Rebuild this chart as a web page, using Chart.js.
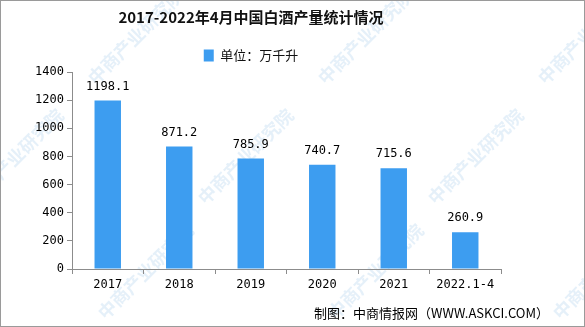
<!DOCTYPE html>
<html>
<head>
<meta charset="utf-8">
<script src="https://cdn.jsdelivr.net/npm/chart.js@4/dist/chart.umd.min.js"></script>
<style>
  html, body { margin: 0; padding: 0; background: #fff; }
  #wrap { position: relative; width: 585px; height: 327px; box-sizing: border-box; border: 1px solid #9a9a9a; }
  canvas { display: block; }
</style>
</head>
<body>
<div id="wrap"><canvas id="chart" width="583" height="325"></canvas></div>
<script>
const years = ['2017', '2018', '2019', '2020', '2021', '2022.1-4'];
const output = [1198.1, 871.2, 785.9, 740.7, 715.6, 260.9];
const yTicks = [0, 200, 400, 600, 800, 1000, 1200, 1400];

const BAR_BLUE = '#3d9df0';
const AXIS_GRAY = '#8c8c8c';

// faint diagonal watermark text behind the chart
const watermark = {
  id: 'watermark',
  beforeDraw(chart) {
    const ctx = chart.ctx;
    ctx.save();
    ctx.font = 'bold 18px "Noto Sans CJK SC"';
    ctx.fillStyle = 'rgba(170, 205, 235, 0.3)';
    const spots = [[90, 80], [320, 80], [540, 80], [-30, 200], [200, 200], [430, 200], [100, 315], [330, 315], [555, 315]];
    spots.forEach(([x, y]) => {
      ctx.save();
      ctx.translate(x, y);
      ctx.rotate(-Math.PI / 4);
      ctx.fillText('中商产业研究院', 0, 0);
      ctx.restore();
    });
    ctx.restore();
  }
};

// value labels on top of each bar, plus the source note
const barLabels = {
  id: 'barLabels',
  afterDatasetsDraw(chart) {
    const ctx = chart.ctx;
    ctx.save();
    ctx.font = '12px "DejaVu Sans Mono"';
    ctx.fillStyle = '#000';
    ctx.textAlign = 'center';
    ctx.textBaseline = 'bottom';
    chart.getDatasetMeta(0).data.forEach((bar, i) => {
      ctx.fillText(output[i].toFixed(1), bar.x, bar.y - 8);
    });
    ctx.font = '13px "Noto Sans CJK SC"';
    ctx.textAlign = 'right';
    ctx.textBaseline = 'middle';
    ctx.fillText('制图：中商情报网（WWW.ASKCI.COM）', 548, 312);
    ctx.restore();
  }
};

new Chart(document.getElementById('chart'), {
  type: 'bar',
  data: {
    labels: years,
    datasets: [{
      label: '单位：万千升',
      data: output,
      backgroundColor: BAR_BLUE,
      categoryPercentage: 1,
      barPercentage: 0.37
    }]
  },
  options: {
    responsive: false,
    animation: false,
    layout: { padding: { left: 0, right: 83, top: 4, bottom: 0 } },
    plugins: {
      title: {
        display: true,
        text: '2017-2022年4月中国白酒产量统计情况',
        color: '#111',
        font: { family: '"Noto Sans CJK SC"', size: 15, weight: 'bold' },
        padding: { top: 3, bottom: 10 }
      },
      legend: {
        display: true,
        labels: {
          boxWidth: 10,
          boxHeight: 12,
          color: '#111',
          font: { family: '"Noto Sans CJK SC"', size: 13 },
          padding: 13
        }
      },
      tooltip: { enabled: false }
    },
    scales: {
      y: {
        min: 0,
        max: 1400,
        afterFit(scale) { scale.width = 71; },
        afterBuildTicks(scale) { scale.ticks = yTicks.map(v => ({ value: v })); },
        border: { color: AXIS_GRAY, width: 1 },
        grid: { drawOnChartArea: false, tickLength: 5, color: AXIS_GRAY },
        ticks: {
          color: '#000',
          padding: 3,
          font: { family: '"DejaVu Sans Mono"', size: 12 },
          callback: v => String(v)
        }
      },
      x: {
        afterFit(scale) { scale.height = 57; },
        border: { color: AXIS_GRAY, width: 1 },
        grid: { drawOnChartArea: false, tickLength: 5, color: AXIS_GRAY, offset: true },
        ticks: { color: '#000', padding: 4, font: { family: '"DejaVu Sans Mono"', size: 12 }, maxRotation: 0 }
      }
    }
  },
  plugins: [watermark, barLabels]
});
</script>
</body>
</html>
